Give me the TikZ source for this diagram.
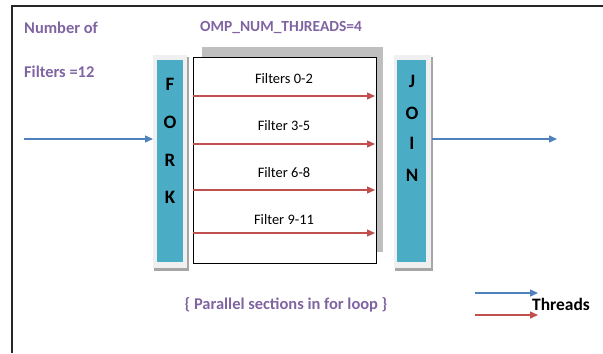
\documentclass[tikz,border=0pt]{standalone}
\usepackage{fontspec}
\setmainfont{Carlito}
\usetikzlibrary{arrows.meta}
\definecolor{txtpurple}{RGB}{128,100,162}
\definecolor{barteal}{RGB}{75,172,198}
\definecolor{thrred}{RGB}{192,80,77}
\definecolor{thrblue}{RGB}{79,129,189}
\tikzset{
  thread/.style={line width=1.4bp, -{Triangle[length=8bp,width=7bp]}},
  redthread/.style={thread, draw=thrred},
  bluethread/.style={thread, draw=thrblue},
  note/.style={text=txtpurple, font=\bfseries\fontsize{16.5}{18}\selectfont, inner sep=0pt},
  lbl/.style={font=\fontsize{14.5}{16}\selectfont, inner sep=0pt},
  barletter/.style={font=\bfseries\fontsize{19}{21}\selectfont, inner sep=0pt},
}
\begin{document}
\begin{tikzpicture}[x=1bp,y=-1bp]
\useasboundingbox (0,0) rectangle (603,353);
% page frame
\draw[line width=1.5bp, black!85] (12,353) -- (12,6) -- (603,6);

% headings
\node[note, anchor=west] (num) at (24,28) {Number of};
\node[note, anchor=west] (nfil) at (24,72) {Filters =12};
\node[note, anchor=west, font=\bfseries\fontsize{15.5}{18}\selectfont] (omp) at (200,28) {OMP\_NUM\_THJREADS=4};

% FORK bar
\fill[black!35] (154,57) rectangle (189,271);
\fill[black!6] (153,55) rectangle (187,268);
\node[fill=barteal, minimum width=26bp, minimum height=202bp, inner sep=0pt] (fork) at (170,161) {};
\node[barletter] at (170,84) {F};
\node[barletter] at (170,122) {O};
\node[barletter] at (170,160) {R};
\node[barletter] at (170,197) {K};

% parallel section box with its shadow
\fill[black!25] (202,47) rectangle (383,252);
\node[draw=black, fill=white, line width=1bp, minimum width=183bp, minimum height=206bp, inner sep=0pt] (box) at (284.5,160) {};

% JOIN bar
\fill[black!35] (395,57) rectangle (433,271);
\fill[black!6] (394,55) rectangle (431,268);
\node[fill=barteal, minimum width=29bp, minimum height=202bp, inner sep=0pt] (join) at (411.5,161) {};
\node[barletter] at (412,81) {J};
\node[barletter] at (412,113) {O};
\node[barletter] at (412,143) {I};
\node[barletter] at (412,175) {N};

% thread labels
\node[lbl] (l1) at (284,79) {Filters 0-2};
\node[lbl] (l2) at (284,126) {Filter 3-5};
\node[lbl] (l3) at (284,173) {Filter 6-8};
\node[lbl] (l4) at (284,220) {Filter 9-11};

% worker threads
\foreach \i/\y in {1/96,2/144,3/190,4/233}{
  \coordinate (s\i) at (193,\y);
  \coordinate (e\i) at (375,\y);
  \draw[redthread] (s\i) -- (e\i);
}

% master thread in and out
\coordinate (in) at (24,139);
\coordinate (out) at (557,139);
\draw[bluethread] (in) -- (153,139);
\draw[bluethread] (432,139) -- (out);

% caption
\node[note] (cap) at (286,305) {\{ Parallel sections in for loop \}};

% legend
\coordinate (lb1) at (475,293);
\coordinate (lb2) at (538,293);
\coordinate (lr1) at (475,315);
\coordinate (lr2) at (538,315);
\draw[bluethread] (lb1) -- (lb2);
\draw[redthread] (lr1) -- (lr2);
\node[inner sep=0pt, font=\bfseries\fontsize{17.5}{19}\selectfont, anchor=west] (thr) at (532,304) {Threads};
\end{tikzpicture}
\end{document}
